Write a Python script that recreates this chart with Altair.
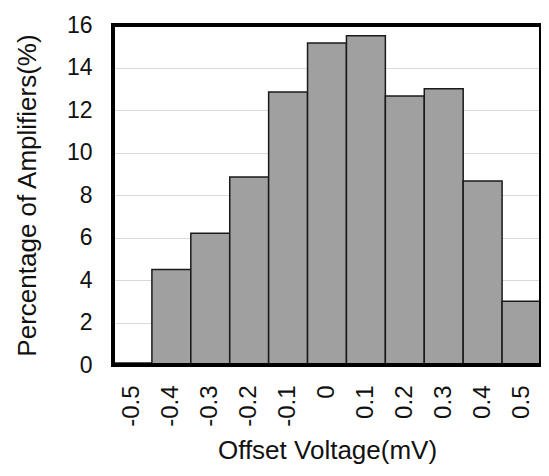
import altair as alt
import pandas as pd

offsets = ["-0.5", "-0.4", "-0.3", "-0.2", "-0.1", "0", "0.1", "0.2", "0.3", "0.4", "0.5"]
percent = [0.1, 4.5, 6.2, 8.85, 12.85, 15.15, 15.5, 12.66, 13.0, 8.66, 3.0]

df = pd.DataFrame({"offset": offsets, "pct": percent})

FONT = "Liberation Sans"
W, H = 428, 340

bars = alt.Chart(df).mark_bar(
    color="#a0a0a0", stroke="#1a1a1a", strokeWidth=1.5
).encode(
    x=alt.X("offset:N", sort=offsets,
            scale=alt.Scale(paddingInner=0, paddingOuter=0),
            axis=alt.Axis(title="Offset Voltage(mV)", labelAngle=-90, labelAlign="right",
                          labelBaseline="middle", labelFontSize=24, labelPadding=20,
                          titleFontSize=26, titlePadding=11, ticks=False, domain=False,
                          labelColor="#111", titleColor="#111", labelFont=FONT,
                          titleFont=FONT, titleFontWeight="normal")),
    y=alt.Y("pct:Q", scale=alt.Scale(domain=[0, 16], nice=False),
            axis=alt.Axis(title="Percentage of Amplifiers(%)", values=list(range(0, 17, 2)),
                          labelFontSize=23, labelPadding=21, titleFontSize=26, titlePadding=26,
                          ticks=False, domain=False, gridColor="#d9d9d9", gridWidth=1.2,
                          labelColor="#111", titleColor="#111", labelFont=FONT,
                          titleFont=FONT, titleFontWeight="normal")),
)

frame = alt.Chart(df).mark_rect(fill=None, stroke="black", strokeWidth=4).encode(
    x=alt.value(0), x2=alt.value(W), y=alt.value(0), y2=alt.value(H)
)

chart = alt.layer(bars, frame).properties(
    width=W, height=H,
    background="white",
    autosize=alt.AutoSizeParams(type="none"),
    padding={"left": 105, "top": 17, "right": 0, "bottom": 103},
).configure_view(
    strokeWidth=0
)

chart.save("out.html", embed_options={"renderer": "svg", "actions": False})
